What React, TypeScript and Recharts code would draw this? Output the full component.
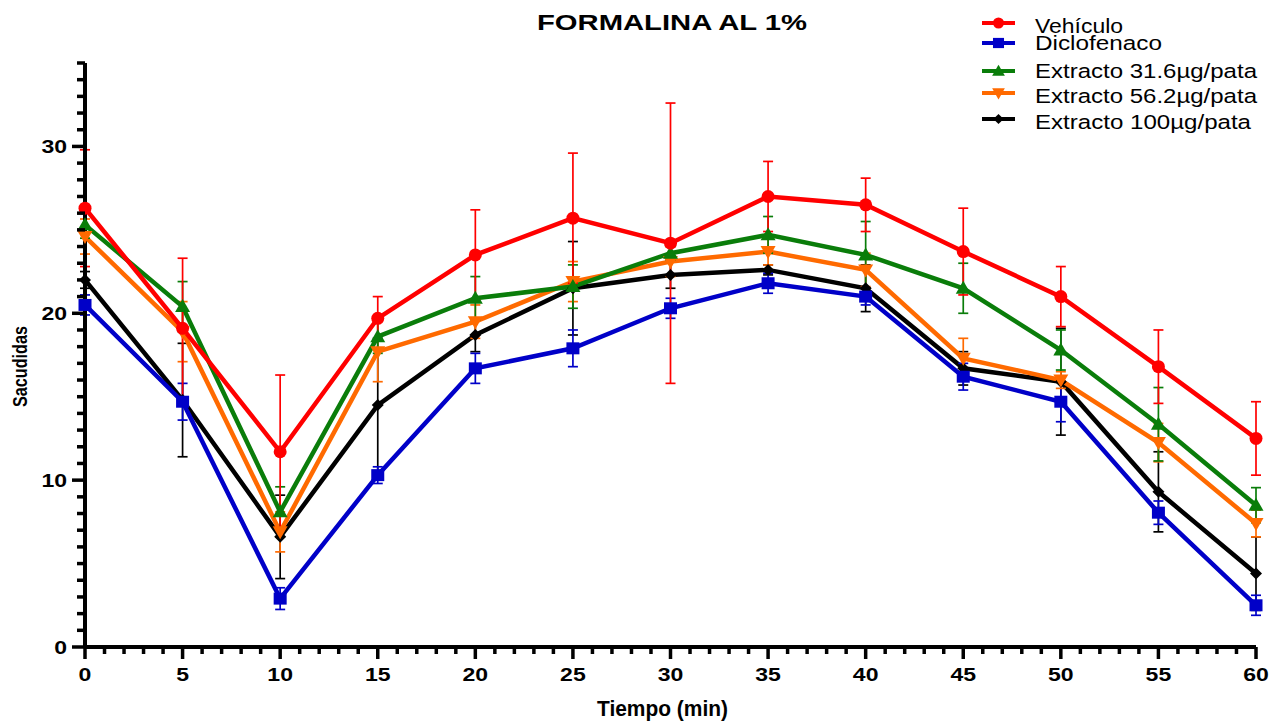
import React from "react";
import { LineChart, Line, XAxis, YAxis, ErrorBar } from "recharts";

const tiempo = [0, 5, 10, 15, 20, 25, 30, 35, 40, 45, 50, 55, 60];

const vehiculo = [26.3, 19.1, 11.7, 19.7, 23.5, 25.7, 24.2, 27.0, 26.5, 23.7, 21.0, 16.8, 12.5];
const vehiculoErr = [3.5, 4.2, 4.6, 1.3, 2.7, 3.9, 8.4, 2.1, 1.6, 2.6, 1.8, 2.2, 2.2];

const diclofenaco = [20.5, 14.7, 2.9, 10.3, 16.7, 17.9, 20.3, 21.8, 21.0, 16.2, 14.7, 8.05, 2.5];
const diclofenacoErr = [0.6, 1.1, 0.65, 0.5, 0.9, 1.1, 0.6, 0.6, 0.5, 0.8, 1.2, 0.7, 0.6];

const extracto316 = [25.3, 20.4, 8.1, 18.6, 20.9, 21.6, 23.6, 24.7, 23.5, 21.5, 17.8, 13.35, 8.5];
const extracto316Err = [0.8, 1.5, 1.5, 1.0, 1.3, 1.3, 0.4, 1.1, 2.0, 1.5, 1.2, 2.2, 1.05];

const extracto562 = [24.6, 18.9, 6.9, 17.7, 19.5, 21.9, 23.1, 23.7, 22.6, 17.3, 16.0, 12.25, 7.4];
const extracto562Err = [1.05, 1.8, 1.2, 1.8, 1.0, 1.2, 0.9, 0.8, 1.0, 1.2, 0.5, 1.15, 0.8];

const extracto100 = [22.0, 14.8, 6.6, 14.5, 18.7, 21.5, 22.3, 22.6, 21.5, 16.7, 15.9, 9.3, 4.4];
const extracto100Err = [0.5, 3.4, 2.5, 4.0, 1.0, 2.8, 0.8, 0.3, 1.4, 1.0, 3.2, 2.4, 2.2];

const xTicks = Array.from({ length: 61 }, (_, i) => i);
const yTicks = Array.from({ length: 36 }, (_, i) => i);

const data = tiempo.map((t, i) => ({
  t,
  veh: vehiculo[i],
  vehErr: vehiculoErr[i],
  dic: diclofenaco[i],
  dicErr: diclofenacoErr[i],
  e316: extracto316[i],
  e316Err: extracto316Err[i],
  e562: extracto562[i],
  e562Err: extracto562Err[i],
  e100: extracto100[i],
  e100Err: extracto100Err[i],
}));

const FONT = "'Liberation Sans', Arial, Helvetica, sans-serif";

const RED = "#ff0000";
const BLUE = "#0000c8";
const GREEN = "#0a7d0a";
const ORANGE = "#ff6a00";
const BLACK = "#000000";

type Shape = "circle" | "square" | "up" | "down" | "diamond";

function Marker({ cx, cy, shape, color, s = 1 }: { cx: number; cy: number; shape: Shape; color: string; s?: number }) {
  if (cx == null || cy == null) return null;
  if (shape === "circle") return <circle cx={cx} cy={cy} r={6.5 * s} fill={color} />;
  if (shape === "square")
    return <rect x={cx - 6.5 * s} y={cy - 6 * s} width={13 * s} height={12 * s} fill={color} />;
  if (shape === "up")
    return (
      <polygon
        points={`${cx},${cy - 7.5 * s} ${cx + 7.5 * s},${cy + 5.5 * s} ${cx - 7.5 * s},${cy + 5.5 * s}`}
        fill={color}
      />
    );
  if (shape === "down")
    return (
      <polygon
        points={`${cx},${cy + 7.5 * s} ${cx + 7.5 * s},${cy - 5.5 * s} ${cx - 7.5 * s},${cy - 5.5 * s}`}
        fill={color}
      />
    );
  return (
    <polygon
      points={`${cx},${cy - 6 * s} ${cx + 6 * s},${cy} ${cx},${cy + 6 * s} ${cx - 6 * s},${cy}`}
      fill={color}
    />
  );
}

const XTick = (props: any) => {
  const { x, y, payload } = props;
  const v = payload.value;
  const major = v % 5 === 0;
  const s = String(v);
  return (
    <g>
      <line x1={x} x2={x} y1={y} y2={y + (major ? 12 : 7)} stroke="#000" strokeWidth={3.5} />
      {major && (
        <text
          x={x}
          y={y + 34}
          textAnchor="middle"
          fontFamily={FONT}
          fontWeight="bold"
          fontSize={18.5}
          fill="#000"
          textLength={s.length * 12.8}
          lengthAdjust="spacingAndGlyphs"
        >
          {s}
        </text>
      )}
    </g>
  );
};

const YTick = (props: any) => {
  const { x, y, payload } = props;
  const v = payload.value;
  const major = v % 10 === 0;
  const s = String(v);
  return (
    <g>
      <line x1={x - (major ? 13 : 8)} x2={x} y1={y} y2={y} stroke="#000" strokeWidth={3.5} />
      {major && (
        <text
          x={x - 18}
          y={y + 6.7}
          textAnchor="end"
          fontFamily={FONT}
          fontWeight="bold"
          fontSize={18.5}
          fill="#000"
          textLength={s.length * 12.8}
          lengthAdjust="spacingAndGlyphs"
        >
          {s}
        </text>
      )}
    </g>
  );
};

const series = [
  { key: "e100", name: "Extracto 100µg/pata", color: BLACK, shape: "diamond" as Shape },
  { key: "dic", name: "Diclofenaco", color: BLUE, shape: "square" as Shape },
  { key: "e562", name: "Extracto 56.2µg/pata", color: ORANGE, shape: "down" as Shape },
  { key: "e316", name: "Extracto 31.6µg/pata", color: GREEN, shape: "up" as Shape },
  { key: "veh", name: "Vehículo", color: RED, shape: "circle" as Shape },
];

const legendItems = [
  { name: "Vehículo", color: RED, shape: "circle" as Shape, my: 23, ty: 32.5, w: 88 },
  { name: "Diclofenaco", color: BLUE, shape: "square" as Shape, my: 43, ty: 50, w: 127 },
  { name: "Extracto 31.6µg/pata", color: GREEN, shape: "up" as Shape, my: 71, ty: 77.5, w: 222 },
  { name: "Extracto 56.2µg/pata", color: ORANGE, shape: "down" as Shape, my: 93, ty: 102.5, w: 222 },
  { name: "Extracto 100µg/pata", color: BLACK, shape: "diamond" as Shape, my: 119, ty: 128.5, w: 216 },
];

export default function App() {
  return (
    <div style={{ position: "absolute", left: 0, top: 0, width: 1274, height: 722, background: "#fff" }}>
      <LineChart
        width={1274}
        height={722}
        data={data}
        margin={{ top: 63, right: 18, bottom: 0, left: 0 }}
      >
        <XAxis
          dataKey="t"
          type="number"
          domain={[0, 60]}
          ticks={xTicks}
          interval={0}
          height={75}
          tickSize={0}
          tickMargin={0}
          tickLine={false}
          axisLine={{ stroke: "#000", strokeWidth: 4 }}
          tick={<XTick />}
        />
        <YAxis
          type="number"
          domain={[0, 35]}
          ticks={yTicks}
          interval={0}
          width={85}
          tickSize={0}
          tickMargin={0}
          tickLine={false}
          axisLine={{ stroke: "#000", strokeWidth: 4 }}
          tick={<YTick />}
        />
        {series.map((s) => (
          <Line
            key={s.key}
            dataKey={s.key}
            name={s.name}
            type="linear"
            stroke={s.color}
            strokeWidth={4.5}
            isAnimationActive={false}
            dot={(p: any) => <Marker key={`${s.key}-${p.index}`} cx={p.cx} cy={p.cy} shape={s.shape} color={s.color} />}
            activeDot={false}
          >
            <ErrorBar dataKey={`${s.key}Err`} direction="y" width={5} stroke={s.color} strokeWidth={1.7} />
          </Line>
        ))}
      </LineChart>
      <svg
        width={1274}
        height={722}
        style={{ position: "absolute", left: 0, top: 0, pointerEvents: "none" }}
      >
        <text
          x={537}
          y={29.5}
          fontFamily={FONT}
          fontWeight="bold"
          fontSize={22}
          fill="#000"
          textLength={270}
          lengthAdjust="spacingAndGlyphs"
        >
          FORMALINA AL 1%
        </text>
        <text
          x={597}
          y={716}
          fontFamily={FONT}
          fontWeight="bold"
          fontSize={22}
          fill="#000"
          textLength={131}
          lengthAdjust="spacingAndGlyphs"
        >
          Tiempo (min)
        </text>
        <text
          transform="translate(27,407) rotate(-90)"
          x={0}
          y={0}
          fontFamily={FONT}
          fontWeight="bold"
          fontSize={19.5}
          fill="#000"
          textLength={81}
          lengthAdjust="spacingAndGlyphs"
        >
          Sacudidas
        </text>
        {legendItems.map((it) => (
          <g key={it.name}>
            <line x1={982} x2={1015} y1={it.my} y2={it.my} stroke={it.color} strokeWidth={4} />
            <Marker cx={998.5} cy={it.my} shape={it.shape} color={it.color} s={0.85} />
            <text
              x={1035}
              y={it.ty}
              fontFamily={FONT}
              fontSize={20.5}
              fill="#000"
              textLength={it.w}
              lengthAdjust="spacingAndGlyphs"
            >
              {it.name}
            </text>
          </g>
        ))}
      </svg>
    </div>
  );
}
